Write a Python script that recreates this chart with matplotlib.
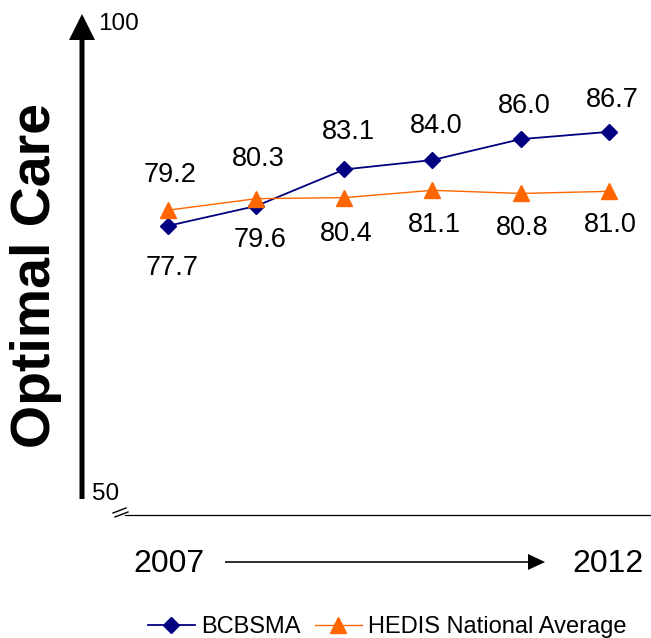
import matplotlib
matplotlib.use("Agg")
import matplotlib.pyplot as plt
from matplotlib.patches import FancyArrow

plt.rcParams['font.family'] = ['Liberation Sans', 'DejaVu Sans']

# Optimal care rates, 2007-2012
years = [2007, 2008, 2009, 2010, 2011, 2012]
bcbsma = [77.7, 79.6, 83.1, 84.0, 86.0, 86.7]
hedis = [79.2, 80.3, 80.4, 81.1, 80.8, 81.0]

# vertical label offsets in pixels (+ above, - below)
bcbsma_off = [-42, -34, 37, 34, 33, 32]
hedis_off = [35, 40, -36, -35, -35, -34]

W, H = 651, 638
fig = plt.figure(figsize=(W / 100, H / 100), dpi=100)

# main plotting area: 50 sits on the baseline
ax = fig.add_axes([125 / W, (H - 515) / H, (W - 125) / W, 522 / H])
x = list(range(len(years)))
ax.plot(x, bcbsma, color='#000080', lw=1.3, marker='D', ms=8,
        label='BCBSMA', clip_on=False, zorder=3)
ax.plot(x, hedis, color='#FF6600', lw=1.0, marker='^', ms=12,
        label='HEDIS National Average', clip_on=False, zorder=3)

for xi, v, o in zip(x, bcbsma, bcbsma_off):
    ax.annotate(f'{v:.1f}', (xi, v), xytext=(4, o), textcoords='offset pixels',
                ha='center', va='center', fontsize=19.5)
for xi, v, o in zip(x, hedis, hedis_off):
    ax.annotate(f'{v:.1f}', (xi, v), xytext=(2, o), textcoords='offset pixels',
                ha='center', va='center', fontsize=19.5)

ax.set_xlim(-0.49, 5.48)
ax.set_ylim(50, 100)
ax.set_xticks([])
ax.set_yticks([])
for s in ['top', 'right', 'left']:
    ax.spines[s].set_visible(False)
ax.spines['bottom'].set_linewidth(0.9)
ax.patch.set_alpha(0)

# overlay in pixel coordinates for arrows and annotations
ov = fig.add_axes([0, 0, 1, 1], zorder=-1)
ov.set_xlim(0, W)
ov.set_ylim(H, 0)
ov.axis('off')

# y axis arrow
ov.add_patch(FancyArrow(82, 499, 0, -485, width=5, head_width=26,
                        head_length=26, length_includes_head=True,
                        color='black', lw=0))
# time arrow
ov.add_patch(FancyArrow(225, 562, 320, 0, width=1.6, head_width=16,
                        head_length=17, length_includes_head=True,
                        color='black', lw=0))
# axis break marks
ov.plot([113, 126], [513, 508], color='black', lw=1)
ov.plot([115, 128], [517, 512], color='black', lw=1)

ov.text(98, 24, '100', fontsize=17.5, va='center', ha='left')
ov.text(92, 494, '50', fontsize=17.5, va='center', ha='left')
ov.text(169, 564, str(years[0]), fontsize=23, va='center', ha='center')
ov.text(608, 564, str(years[-1]), fontsize=23, va='center', ha='center')
ov.text(36, 276, 'Optimal Care', fontsize=40, fontweight='bold',
        rotation=90, va='center', ha='center')

fig.legend(loc='center', bbox_to_anchor=(387 / W, 11 / H), ncol=2,
           frameon=False, fontsize=17, handlelength=2.0, handletextpad=0.25,
           columnspacing=0.6, borderaxespad=0)

fig.savefig('out.png', dpi=100)
